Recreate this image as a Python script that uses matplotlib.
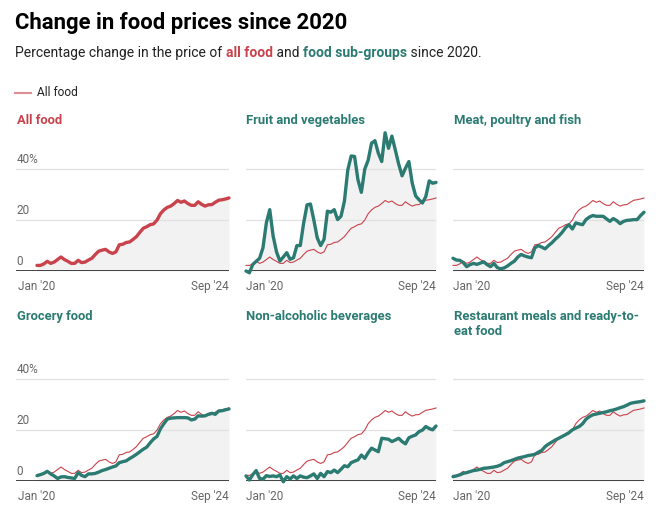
import matplotlib
matplotlib.use("Agg")
import matplotlib.pyplot as plt
from matplotlib.lines import Line2D

plt.rcParams['font.family'] = ['Roboto', 'DejaVu Sans']

# ---------------- data (monthly, Jan 2020 .. Sep 2024) ----------------
x_labels = ["Jan '20", "Sep '24"]
y_ticks = [0, 20, 40]
y_tick_labels = ["0", "20", "40%"]

all_food = [2.2, 2.2, 2.8, 3.8, 3.0, 3.5, 4.5, 5.5, 4.5, 3.8, 3.0, 3.0, 4.2, 3.3, 3.5,
            4.3, 5.0, 6.5, 7.8, 8.2, 8.5, 7.5, 6.9, 7.5, 10.3, 10.5, 11.2, 11.4, 12.4,
            13.5, 15.2, 16.8, 17.4, 18.2, 18.5, 20.0, 22.5, 24.0, 25.0, 25.5, 26.5,
            27.7, 27.0, 27.5, 26.5, 25.8, 25.8, 27.2, 26.2, 25.5, 26.0, 26.1, 27.0,
            27.8, 28.0, 28.3, 28.7]

fruit_veg = [0.0, -0.7, 2.6, 3.8, 5.0, 9.1, 18.9, 24.1, 13.7, 7.5, 3.9, 5.5, 7.2, 4.6,
             5.2, 10.0, 10.0, 18.9, 26.0, 26.3, 20.0, 13.0, 10.0, 12.4, 23.5, 23.1,
             24.1, 20.2, 21.5, 27.4, 39.7, 45.2, 45.0, 35.8, 30.9, 40.0, 43.5, 50.2,
             51.2, 46.3, 43.0, 54.3, 48.2, 53.0, 47.6, 42.0, 37.4, 40.4, 43.0, 34.5,
             29.5, 28.0, 26.7, 29.3, 35.4, 34.5, 34.8]

meat_fish = [5.0, 4.3, 4.2, 3.3, 1.7, 2.5, 3.0, 2.6, 3.1, 3.6, 2.5, 1.7, 3.0, 1.3, 0.9,
             1.2, 2.0, 3.0, 3.9, 5.5, 6.5, 5.9, 5.5, 5.2, 9.1, 10.0, 9.4, 8.7, 10.0,
             11.1, 12.5, 13.7, 15.2, 17.0, 18.2, 16.5, 18.9, 18.5, 18.2, 20.2, 21.2,
             21.8, 21.5, 21.5, 21.5, 20.5, 19.5, 20.6, 19.8, 18.6, 19.5, 19.9, 20.0,
             20.2, 20.2, 21.8, 23.1]

grocery = [2.1, 2.5, 3.0, 3.8, 2.8, 2.0, 1.0, 1.6, 1.7, 1.4, 1.2, 1.0, 3.3, 2.2, 1.7,
           2.8, 2.8, 3.0, 3.5, 4.1, 4.5, 5.0, 5.5, 5.9, 7.2, 7.6, 7.9, 8.8, 9.6, 10.5,
           11.5, 12.5, 13.3, 15.0, 16.5, 17.5, 20.5, 22.5, 24.3, 24.7, 24.8, 24.9,
           24.9, 24.9, 24.8, 24.0, 24.3, 25.6, 25.5, 25.6, 26.2, 26.6, 26.2, 27.5,
           27.6, 28.0, 28.3]

beverages = [2.0, 0.4, 2.5, 4.1, 1.0, 0.7, 2.1, 1.8, 2.0, 1.7, 2.4, -0.3, 1.7, 0.8, 2.0,
             1.0, 2.0, 1.5, 1.3, 2.0, 2.8, 1.0, 3.0, 1.7, 3.7, 3.3, 4.3, 3.3, 4.6, 6.0,
             5.6, 7.2, 7.8, 8.3, 10.2, 8.9, 11.1, 12.9, 12.2, 11.5, 16.8, 16.6, 16.4,
             15.5, 16.1, 16.8, 15.5, 14.6, 17.0, 17.6, 18.1, 19.4, 20.0, 21.4, 20.6,
             20.1, 21.6]

restaurant = [1.7, 2.0, 2.4, 3.0, 3.3, 3.7, 4.1, 4.3, 4.6, 5.0, 5.1, 5.3, 5.5, 5.8, 6.3,
              7.2, 7.6, 8.0, 8.5, 9.0, 9.3, 9.6, 10.0, 10.2, 10.5, 11.3, 12.0, 13.5,
              14.5, 15.3, 16.1, 16.8, 17.5, 18.2, 19.0, 20.1, 20.8, 21.4, 22.5, 24.3,
              25.3, 26.0, 26.3, 26.6, 26.9, 27.2, 27.6, 27.9, 28.3, 28.8, 29.2, 29.8,
              30.5, 30.8, 31.0, 31.2, 31.5]

panel_titles = ["All food", "Fruit and vegetables", "Meat, poultry and fish",
                "Grocery food", "Non-alcoholic beverages",
                "Restaurant meals and ready-to-\neat food"]
panel_series = [all_food, fruit_veg, meat_fish, grocery, beverages, restaurant]

# ---------------- style ----------------
RED = "#c9434c"
TEAL = "#2b7b72"
GRID = "#e1e1e1"
FILL = "#f2f2f2"
TICK = "#666666"

W, H = 660, 518
fig = plt.figure(figsize=(W / 100, H / 100), dpi=100)
fig.patch.set_facecolor("white")


def fx(px):
    return px / W


def fy(py):
    return 1 - py / H


# column extents (px) and row extents (px from top)
cols = [(16, 229), (246, 436), (453, 644)]
title_x = [17, 246, 454]
rows = [(131, 271), (341, 481)]
col1_data_start = 37
YMAX = 55

n = len(all_food)
xs = list(range(n))

for i, (title, series) in enumerate(zip(panel_titles, panel_series)):
    r, c = divmod(i, 3)
    x0, x1 = cols[c]
    yt, yb = rows[r]
    ax = fig.add_axes([fx(x0), fy(yb), fx(x1 - x0), (yb - yt) / H])
    if c == 0:
        ppx = (x1 - col1_data_start) / (n - 1)
        ax.set_xlim(-(col1_data_start - x0) / ppx, n - 1)
    else:
        ax.set_xlim(0, n - 1)
    ax.set_ylim(0, YMAX)
    for s in ax.spines.values():
        s.set_visible(False)
    ax.set_xticks([])
    ax.set_yticks([])
    ax.patch.set_alpha(0)

    for yv in y_ticks[1:]:
        ax.axhline(yv, color=GRID, lw=0.9, zorder=1)
    ax.fill_between(xs, 0, series, color=FILL, lw=0, zorder=0.5)
    ax.axhline(0, color="#111111", lw=1.1, zorder=2.5)

    main_color = RED if i == 0 else TEAL
    if i != 0:
        ax.plot(xs, all_food, color=RED, lw=0.8, zorder=3, clip_on=False)
    ax.plot(xs, series, color=main_color, lw=2.4, zorder=4, clip_on=False,
            solid_joinstyle="round", solid_capstyle="round")

    # y labels only in first column
    if c == 0:
        for yv, lab in zip(y_ticks, y_tick_labels):
            ax.annotate(lab, xy=(0, yv), xycoords=ax.get_yaxis_transform(),
                        xytext=(0.5, 2.2), textcoords="offset points",
                        ha="left", va="bottom", fontsize=8.5, color=TICK)

    # x labels
    if c == 0:
        ax.annotate(x_labels[0], xy=(0, 0), xycoords="data", xytext=(0, -11),
                    textcoords="offset points", ha="center", va="center",
                    fontsize=8.5, color=TICK, annotation_clip=False)
    else:
        ax.annotate(x_labels[0], xy=(0, 0), xycoords="axes fraction", xytext=(0, -11),
                    textcoords="offset points", ha="left", va="center",
                    fontsize=8.5, color=TICK)
    ax.annotate(x_labels[1], xy=(1, 0), xycoords="axes fraction", xytext=(0, -11),
                textcoords="offset points", ha="right", va="center",
                fontsize=8.5, color=TICK)

    # panel title
    ty = 120 if r == 0 else 316
    fig.text(fx(title_x[c]), fy(ty - 6), title, ha="left", va="top", fontsize=9.4,
             fontweight="bold", color=main_color, linespacing=1.2)

# ---------------- headings ----------------
fig.text(fx(15), fy(23), "Change in food prices since 2020", ha="left", va="center",
         fontsize=15.9, fontweight="bold", color="#000000")

renderer = fig.canvas.get_renderer()
parts = [("Percentage change in the price of ", "#222222", "normal"),
         ("all food", RED, "bold"),
         (" and ", "#222222", "normal"),
         ("food sub-groups", TEAL, "bold"),
         (" since 2020.", "#222222", "normal")]
cx = 15
for txt, col, wt in parts:
    t = fig.text(fx(cx), fy(53), txt, ha="left", va="center", fontsize=10,
                 color=col, fontweight=wt)
    bb = t.get_window_extent(renderer=renderer)
    cx += bb.width

# legend
fig.add_artist(Line2D([fx(15), fx(31)], [fy(93), fy(93)], color=RED, lw=1.5, alpha=0.6))
fig.text(fx(37), fy(93), "All food", ha="left", va="center", fontsize=8.6, color="#222222")

fig.savefig("out.png", dpi=100)
